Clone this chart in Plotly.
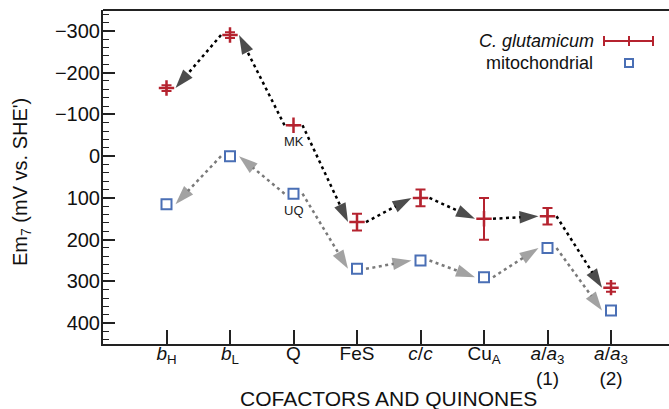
import plotly.graph_objects as go

# ---------------- data ----------------
categories = ["<i>b</i><sub>H</sub>", "<i>b</i><sub>L</sub>", "Q", "FeS", "<i>c</i>/<i>c</i>",
              "Cu<sub>A</sub>", "<i>a</i>/<i>a</i><sub>3</sub><br>(1)", "<i>a</i>/<i>a</i><sub>3</sub><br>(2)"]
cg_values = [-163, -290, -74, 158, 100, 150, 144, 315]
cg_errors = [7, 7, 0, 20, 20, 50, 20, 10]
mito_values = [115, 0, 90, 270, 250, 290, 220, 370]
arrow_pairs = [(1, 0), (2, 1), (2, 3), (3, 4), (4, 5), (5, 6), (6, 7)]
y_ticks = [-300, -200, -100, 0, 100, 200, 300, 400]

# ---------------- layout constants ----------------
W, H = 669, 409
ML, MR, MT, MB = 103, 0, 10, 65
PLOT_W = W - ML - MR
PLOT_H = H - MT - MB
X_UNIT_PX = 63.5
X0 = -1.0
X1 = X0 + PLOT_W / X_UNIT_PX
Y_RANGE = [450, -350]
FONT = "Liberation Sans, Arial, Helvetica, sans-serif"
RED = "#b5232f"
BLUE = "#4a6fb5"

START_GAP_PX = 9
END_GAP_PX = 9

fig = go.Figure()


def add_arrows(values, color):
    for a, b in arrow_pairs:
        sgn = 1 if b > a else -1
        xs = a + sgn * START_GAP_PX / X_UNIT_PX
        xe = b - sgn * END_GAP_PX / X_UNIT_PX
        fig.add_trace(go.Scatter(
            x=[xs, xe], y=[values[a], values[b]],
            mode="lines+markers",
            line=dict(color=color, width=2.5, dash="3px,3.5px"),
            marker=dict(symbol="arrow", size=[0, 20], angleref="previous",
                        color=color, line=dict(width=0)),
            showlegend=False, hoverinfo="skip", cliponaxis=False,
        ))


add_arrows(cg_values, "#000000")
add_arrows(mito_values, "#7a7a7a")

xs_idx = list(range(len(categories)))

fig.add_trace(go.Scatter(
    x=xs_idx, y=mito_values, mode="markers",
    marker=dict(symbol="square-open", size=10, color=BLUE, line=dict(width=2, color=BLUE)),
    showlegend=False,
))
fig.add_trace(go.Scatter(
    x=xs_idx, y=cg_values, mode="markers",
    marker=dict(symbol="cross-thin", size=11, color=RED, line=dict(width=2.5, color=RED)),
    error_y=dict(type="data", array=cg_errors, visible=True, color=RED, thickness=2, width=5),
    showlegend=False,
))


# page pixel -> paper coordinate
def px(xp):
    return (xp - ML) / PLOT_W


def py(yp):
    return (MT + PLOT_H - yp) / PLOT_H


annotations = [
    dict(x=2, y=cg_values[2], text="MK", showarrow=False, yshift=-16,
         font=dict(size=13, family=FONT, color="#222")),
    dict(x=2, y=mito_values[2], text="UQ", showarrow=False, yshift=-17,
         font=dict(size=13, family=FONT, color="#222")),
    dict(xref="paper", yref="paper", x=px(596), y=py(41), xanchor="right", yanchor="middle",
         text="<i>C. glutamicum</i>", showarrow=False, font=dict(size=18, family=FONT, color="#111")),
    dict(xref="paper", yref="paper", x=px(595), y=py(63), xanchor="right", yanchor="middle",
         text="mitochondrial", showarrow=False, font=dict(size=18, family=FONT, color="#111")),
    dict(xref="paper", yref="paper", x=px(388), y=py(398), xanchor="center", yanchor="middle",
         text="COFACTORS AND QUINONES", showarrow=False, font=dict(size=21, family=FONT, color="#111")),
    dict(xref="paper", yref="paper", x=px(21), y=py(182), xanchor="center", yanchor="middle",
         textangle=-90, text="Em<sub>7</sub> (mV vs. SHE')", showarrow=False,
         font=dict(size=20, family=FONT, color="#111")),
]

shapes = [
    dict(type="line", xref="paper", yref="paper", x0=0, x1=1, y0=1, y1=1,
         line=dict(color="#222", width=2)),
    dict(type="line", xref="paper", yref="paper", x0=px(604), x1=px(653), y0=py(41), y1=py(41),
         line=dict(color=RED, width=2)),
    dict(type="line", xref="paper", yref="paper", x0=px(604), x1=px(604), y0=py(36), y1=py(46),
         line=dict(color=RED, width=2)),
    dict(type="line", xref="paper", yref="paper", x0=px(653), x1=px(653), y0=py(36), y1=py(46),
         line=dict(color=RED, width=2)),
    dict(type="line", xref="paper", yref="paper", x0=px(629), x1=px(629), y0=py(36), y1=py(46),
         line=dict(color=RED, width=2)),
    dict(type="rect", xref="paper", yref="paper", x0=px(625), x1=px(633), y0=py(59), y1=py(67),
         line=dict(color=BLUE, width=2)),
]

fig.update_layout(
    width=W, height=H,
    margin=dict(l=ML, r=MR, t=MT, b=MB, pad=0),
    paper_bgcolor="white", plot_bgcolor="white",
    font=dict(family=FONT, size=18, color="#111"),
    showlegend=False,
    annotations=annotations,
    shapes=shapes,
    xaxis=dict(
        range=[X0, X1], tickmode="array", tickvals=xs_idx, ticktext=categories,
        ticks="inside", ticklen=14, tickwidth=1.8, tickcolor="#222",
        showline=True, linecolor="#222", linewidth=2, mirror=False,
        showgrid=False, zeroline=False, tickfont=dict(size=19, family=FONT),
        ticklabelstandoff=-9,
    ),
    yaxis=dict(
        range=Y_RANGE, tickmode="array", tickvals=y_ticks,
        ticks="inside", ticklen=12, tickwidth=1.8, tickcolor="#222",
        minor=dict(dtick=20, tick0=0, ticks="inside", ticklen=6, tickwidth=1.2, tickcolor="#222"),
        showline=True, linecolor="#222", linewidth=2, mirror=False,
        showgrid=False, zeroline=False, tickfont=dict(size=20, family=FONT),
        ticklabelstandoff=-3,
    ),
)

fig.write_html(
    "out.html",
    config={"displayModeBar": False},
    post_script="document.body.style.margin='0px';document.body.style.overflow='hidden';",
)
